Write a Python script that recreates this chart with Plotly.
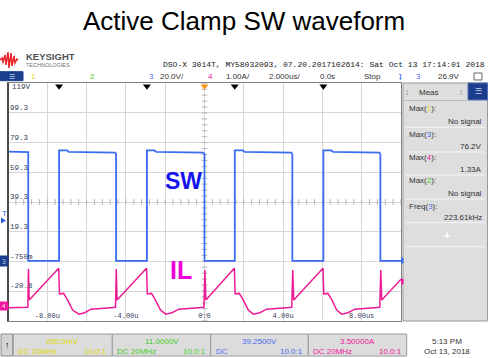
import plotly.graph_objects as go

W, H = 488, 358

# Channel 3 (SW node voltage), time in microseconds, volts
sw_t = [-10.0, -9.5, -8.97, -8.97, -7.40, -7.40, -7.0, -6.9, -4.55, -4.50, -4.50,
        -2.93, -2.93, -2.55, -2.45, -0.05, 0.00, 0.00, 1.54, 1.54, 1.95, 2.05,
        4.42, 4.47, 4.47, 6.05, 6.05, 6.45, 6.55, 8.90, 8.95, 8.95, 10.0]
sw_v = [73.2, 73.0, 72.8, -0.4, -0.4, 74.0, 74.0, 73.0, 72.6, 71.5, -0.4,
        -0.4, 74.0, 74.0, 73.0, 72.6, 71.5, -0.4, -0.4, 74.0, 74.0, 73.0,
        72.6, 71.5, -0.4, -0.4, 74.0, 74.0, 73.0, 72.6, 71.5, -0.4, -0.4]

# Channel 4 (IL current), time in microseconds, amps
il_t = [-10.0, -9.4, -8.99, -8.96, -8.92, -7.42, -7.38, -7.17, -6.97, -6.71, -6.40, -6.10, -5.78, -5.10, -4.53,
        -4.49, -4.45, -2.95, -2.91, -2.70, -2.50, -2.24, -1.97, -1.65, -1.31, -0.63, -0.03,
        0.02, 0.07, 1.52, 1.56, 1.77, 1.97, 2.23, 2.48, 2.82, 3.16, 3.84, 4.44,
        4.49, 4.54, 6.03, 6.07, 6.28, 6.48, 6.73, 6.98, 7.30, 7.65, 8.30, 8.92,
        8.97, 9.02, 10.0]
il_a = [-0.06, -0.05, -0.05, 1.25, 0.20, 1.27, 0.40, 0.42, 0.20, -0.14, -0.28, -0.23, -0.11, -0.08, -0.05,
        1.24, 0.20, 1.27, 0.40, 0.42, 0.20, -0.14, -0.28, -0.23, -0.11, -0.08, -0.05,
        1.21, 0.20, 1.27, 0.40, 0.42, 0.20, -0.14, -0.28, -0.23, -0.11, -0.08, -0.05,
        1.21, 0.20, 1.27, 0.40, 0.42, 0.20, -0.14, -0.28, -0.23, -0.11, -0.08, -0.05,
        1.21, 0.20, 0.90]

# navigation marks (black triangles) and trigger position (orange)
nav_marks = [-7.40, -2.93, 1.54, 6.05]
trig_pos = [0.0]

# scale settings
t_range = [-10.0, 10.0]
ch3_offset, ch3_scale = 39.25, 20.0      # V, V/div
ch4_offset, ch4_scale = 3.5, 1.0         # A, A/div
ndiv_y = 4

ch3_tickvals = [99.25, 79.25, 59.25, 39.25, 19.25, -0.75, -20.75]
ch3_ticktext = ["99.3", "79.3", "59.3", "39.3", "19.3", "-750m", "-20.8"]
t_tickvals = [-8, -4, 0, 4, 8]
t_ticktext = ["-8.00u", "-4.00u", "0.0", "4.00u", "8.00us"]

meas_labels = ["Max(<span style='color:#e0d800'>1</span>):",
               "Max(<span style='color:#4a6ef0'>3</span>):",
               "Max(<span style='color:#f0189c'>4</span>):",
               "Max(<span style='color:#44cc22'>2</span>):",
               "Freq(<span style='color:#4a6ef0'>3</span>):"]
meas_values = ["No signal", "76.2V", "1.33A", "No signal", "223.61kHz"]

# ---------------- helpers ----------------
SANS = "Liberation Sans, Arial, sans-serif"
MONO = "Liberation Mono, DejaVu Sans Mono, monospace"

def X(p):
    return p / W

def Y(p):
    return 1 - p / H

ann = []
shp = []

def txt(x, y, s, size=8, color="#333333", xanchor="center", family=SANS):
    ann.append(dict(x=X(x), y=Y(y), xref="paper", yref="paper", text=s,
                    showarrow=False, xanchor=xanchor, yanchor="middle",
                    font=dict(size=size, color=color, family=family)))

def rect(x0, y0, x1, y1, fill, line=None, lw=1):
    shp.append(dict(type="rect", xref="paper", yref="paper",
                    x0=X(x0), x1=X(x1), y0=Y(y1), y1=Y(y0),
                    fillcolor=fill, line=dict(color=line or fill, width=lw)))

def hline(x0, x1, y, color, lw=1):
    shp.append(dict(type="line", xref="paper", yref="paper",
                    x0=X(x0), x1=X(x1), y0=Y(y), y1=Y(y),
                    line=dict(color=color, width=lw)))

# ---------------- figure ----------------
fig = go.Figure()

y3_range = [ch3_offset - ndiv_y * ch3_scale, ch3_offset + ndiv_y * ch3_scale]
y4_range = [ch4_offset - ndiv_y * ch4_scale, ch4_offset + ndiv_y * ch4_scale]

# center cross minor ticks
minor_t = [t_range[0] + 0.4 * k for k in range(51)]
minor_v = [y3_range[0] + 0.2 * ch3_scale * k for k in range(41)]
fig.add_trace(go.Scatter(x=minor_t, y=[ch3_offset] * len(minor_t), mode="markers",
                         marker=dict(symbol="line-ns", size=4, line=dict(color="#b4b4b4", width=1)),
                         hoverinfo="skip", showlegend=False))
fig.add_trace(go.Scatter(x=[0.0] * len(minor_v), y=minor_v, mode="markers",
                         marker=dict(symbol="line-ew", size=4, line=dict(color="#b4b4b4", width=1)),
                         hoverinfo="skip", showlegend=False))

fig.add_trace(go.Scatter(x=sw_t, y=sw_v, mode="lines",
                         line=dict(color="#3a6cf2", width=1.8), name="SW", showlegend=False))
fig.add_trace(go.Scatter(x=il_t, y=il_a, mode="lines", yaxis="y2",
                         line=dict(color="#ee1a94", width=1.5), name="IL", showlegend=False))

top_mark_y = y3_range[1] - 0.1 * ch3_scale
fig.add_trace(go.Scatter(x=nav_marks, y=[top_mark_y] * len(nav_marks), mode="markers",
                         marker=dict(symbol="triangle-down", size=7, color="black"),
                         cliponaxis=False, showlegend=False))
fig.add_trace(go.Scatter(x=trig_pos, y=[top_mark_y], mode="markers",
                         marker=dict(symbol="triangle-down", size=7, color="#f59a1c"),
                         cliponaxis=False, showlegend=False))

dom_x = [8 / W, 401 / W]
dom_y = [Y(320.7), Y(83.3)]

fig.update_layout(
    width=W, height=H, margin=dict(l=0, r=0, t=0, b=0),
    paper_bgcolor="white", plot_bgcolor="white", showlegend=False,
    xaxis=dict(domain=dom_x, range=t_range, tickvals=t_tickvals, ticktext=t_ticktext,
               ticklabelposition="inside", ticks="", showgrid=True, gridcolor="#d6d6d6",
               gridwidth=1, zeroline=False, showline=True, linecolor="#808080", mirror=True,
               tickfont=dict(family=MONO, size=7, color="#34405a"),
               minor=dict(dtick=2, tick0=0, showgrid=True, gridcolor="#d6d6d6", gridwidth=1)),
    yaxis=dict(domain=dom_y, range=y3_range, tickvals=ch3_tickvals, ticktext=ch3_ticktext,
               ticklabelposition="inside top", ticks="", showgrid=True, gridcolor="#d6d6d6",
               gridwidth=1, zeroline=False, showline=True, linecolor="#808080", mirror=True,
               tickfont=dict(family=MONO, size=7.5, color="#34405a")),
    yaxis2=dict(domain=dom_y, range=y4_range, overlaying="y", anchor="x", visible=False,
                showgrid=False),
)

# left border darker
shp.append(dict(type="line", xref="paper", yref="paper", x0=X(8), x1=X(8), y0=Y(321), y1=Y(83),
                line=dict(color="#4a4a4a", width=2)))

# ---------------- title ----------------
txt(244, 21, "Active Clamp SW waveform", size=26, color="black")

# waveform labels
txt(183, 181, "<b>SW</b>", size=23, color="#1414ee")
txt(181, 270, "<b>IL</b>", size=25, color="#f000d8")

# ---------------- header: logo and instrument line ----------------
logo = [(0, 60), (2, 58), (3, 62), (5, 55), (6, 65), (8, 52), (9, 68), (11, 53),
        (12, 66), (14, 56), (15, 63), (17, 59), (18, 60)]
path = "M " + " L ".join(f"{X(a):.5f},{Y(b):.5f}" for a, b in logo)
shp.append(dict(type="path", xref="paper", yref="paper", path=path,
                line=dict(color="#e8252a", width=1.5)))
txt(24, 57, "<b>KEYSIGHT</b>", size=9.5, color="#505050", xanchor="left")
txt(24, 65.5, "TECHNOLOGIES", size=5.5, color="#707070", xanchor="left")
txt(487, 64.5, "DSO-X 3014T, MY58032093, 07.20.2017102614: Sat Oct 13 17:14:01 2018",
    size=8, color="#222222", xanchor="right", family=MONO)

# status row
rect(0, 71.7, 23, 80.7, "#1b3f8b")
txt(11.5, 76.2, "☰", size=7, color="#b8c8f0")
txt(33.5, 76.5, "1", color="#e0d800")
txt(92.7, 76.5, "2", color="#44cc22")
txt(151.7, 76.5, "3", color="#4a6ef0")
txt(172, 76.5, "20.0V/", color="#333333")
txt(210, 76.5, "4", color="#f0189c")
txt(238, 76.5, "1.00A/", color="#333333")
txt(284, 76.5, "2.000us/", color="#333333")
txt(327, 76.5, "0.0s", color="#333333")
txt(372, 76.5, "Stop", color="#333333")
txt(400, 76.5, "ʇ", size=9, color="#2a5ae8")
txt(418, 76.5, "3", color="#4a6ef0")
txt(449, 76.5, "26.9V", color="#333333")
rect(474, 73, 482, 80, "white", line="#666666", lw=1)

# ---------------- measurement panel ----------------
rect(403, 83, 487.5, 321, "#dedede", line="#9a9a9a")
rect(468, 83, 487.5, 100, "#1c3e8c", line="#5070b0")
txt(478, 91.5, "☰", size=8, color="#c8d4f0")
txt(429, 92.5, "Meas", color="#333333")
txt(407, 92.5, "⁞", size=8, color="#777777")
txt(461, 92.5, "⁞", size=8, color="#777777")
hline(404, 467, 100.5, "#bcbcbc")
label_y = [108.3, 134.3, 157.7, 180.7, 206.0]
value_y = [121.7, 146.0, 169.3, 193.3, 217.5]
sep_y = [127.3, 152.0, 175.0, 199.0, 222.7]
for lab, val, ly, vy, sy in zip(meas_labels, meas_values, label_y, value_y, sep_y):
    txt(406.5, ly, lab, size=8, color="#333333", xanchor="left")
    txt(484, vy, val, size=8, color="#333333", xanchor="right")
    hline(405, 485, sy, "#f4f4f4")
txt(446.7, 235.5, "<b>+</b>", size=11, color="white")
hline(405, 485, 246.7, "#f4f4f4")

# ---------------- left-edge markers ----------------
txt(4.5, 213.5, "T", size=8, color="#2a5ae8")
shp.append(dict(type="path", xref="paper", yref="paper",
                path=f"M {X(1)},{Y(217.5)} L {X(6)},{Y(220.5)} L {X(1)},{Y(223.5)} Z",
                fillcolor="#2a5ae8", line=dict(color="#2a5ae8", width=0)))
rect(0, 256, 8, 266, "#1b3f8b")
txt(4, 261, "3", size=6.5, color="#b8c8f0")
rect(0, 302, 8, 310, "#f0189c")
txt(4, 306, "4", size=6, color="white")
txt(10, 87.5, "119V", size=7.5, color="#34405a", xanchor="left", family=MONO)
rect(401.5, 258, 403, 263, "#3a6cf2")
rect(401.5, 279, 403, 284, "#f0189c")

# ---------------- bottom channel boxes ----------------
rect(1, 334, 12.7, 356, "#d4d4d4", line="#8a8a8a")
txt(7, 345, "<b>↑</b>", size=9, color="black")
boxes = [(13.3, 112.3), (112.3, 210.7), (210.7, 308.3), (308.3, 406.7)]
for x0, x1 in boxes:
    rect(x0, 334, x1, 356, "#dcdcdc", line="#9a9a9a")
ch_cols = ["#e0d800", "#44cc22", "#4a6ef0", "#f0189c"]
ch_off = ["250.0mV", "11.0000V", "39.2500V", "3.50000A"]
ch_cpl = ["DC 20MHz", "DC 20MHz", "DC", "DC 20MHz"]
for (x0, x1), c, o, cp in zip(boxes, ch_cols, ch_off, ch_cpl):
    txt((x0 + x1) / 2, 341, o, size=8, color=c)
    txt(x0 + 3, 351.5, cp, size=8, color=c, xanchor="left")
    txt(x1 - 3, 351.5, "10.0:1", size=8, color=c, xanchor="right")
txt(446.7, 341, "5:13 PM", size=8, color="#333333")
txt(446.7, 351.5, "Oct 13, 2018", size=8, color="#333333")

fig.update_layout(annotations=ann, shapes=shp)
fig.write_html("out.html", config={"displayModeBar": False},
               post_script="document.body.style.margin='0';document.body.style.padding='0';"
                           "document.body.style.overflow='hidden';")
